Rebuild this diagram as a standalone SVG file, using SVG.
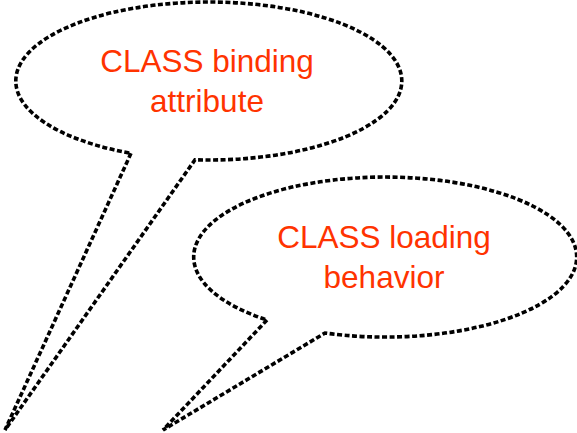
<svg xmlns="http://www.w3.org/2000/svg" width="577" height="433" viewBox="0 0 577 433">
  <style>
    .bubble { fill: #ffffff; stroke: #000000; stroke-width: 3.6; stroke-dasharray: 5 2.5; stroke-linejoin: miter; }
    .label { font-family: "Liberation Sans", Arial, sans-serif; font-size: 31.5px; fill: #ff3300; text-anchor: middle; }
  </style>
  <rect width="577" height="433" fill="#ffffff"/>

  <!-- Callout: binding attribute -->
  <g id="callout-binding">
    <path class="bubble" d="M 131,153.3 L 5,430 L 195,159.8 A 193 79 0 1 0 131,153.3 Z"/>
    <text class="label" x="207" y="72">CLASS binding</text>
    <text class="label" x="207" y="112">attribute</text>
  </g>

  <!-- Callout: loading behavior -->
  <g id="callout-loading">
    <path class="bubble" d="M 267,320 L 163,430 L 325,333 A 191.5 80 0 1 0 267,320 Z"/>
    <text class="label" x="384" y="248">CLASS loading</text>
    <text class="label" x="384" y="288">behavior</text>
  </g>
</svg>
